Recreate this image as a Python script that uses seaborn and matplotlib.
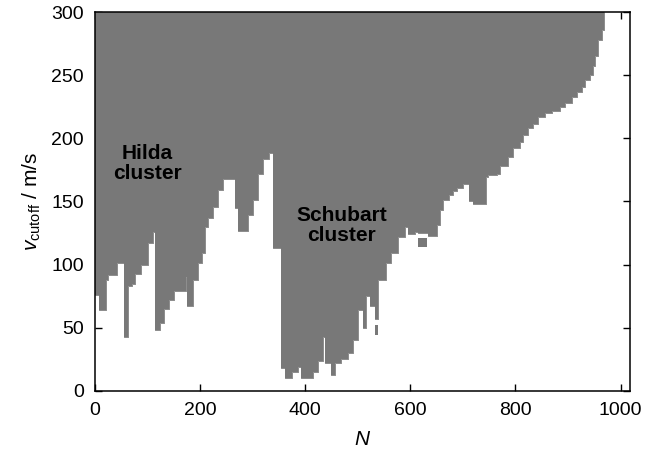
import numpy as np
import pandas as pd
import matplotlib
matplotlib.use("Agg")
import matplotlib.pyplot as plt
import seaborn as sns

# left edge of each step in N, and the cutoff velocity over that step
n_start = [0, 8, 21, 25, 42, 55, 63, 70, 76, 88, 101, 110, 114, 124, 131, 141,
           150, 173, 175, 187, 196, 204, 209, 215, 225, 234, 244, 266, 272, 291,
           301, 310, 320, 331, 339, 354, 362, 375, 386, 392, 415, 425, 434, 438,
           449, 457, 468, 482, 491, 501, 510, 516, 524, 533, 539, 554, 563, 577,
           590, 596, 609, 615, 634, 651, 657, 662, 674, 682, 689, 701, 712, 720,
           744, 748, 765, 771, 786, 796, 809, 815, 824, 834, 843, 857, 870, 885,
           895, 908, 918, 927, 933, 942, 948, 952, 958, 965, 969]
v_cut = [76, 64, 88, 92, 101, 43, 83, 85, 93, 100, 117, 126, 48, 54, 65, 72,
         79, 90, 67, 88, 101, 109, 130, 137, 146, 159, 168, 145, 127, 139,
         151, 172, 184, 188, 113, 18, 10, 15, 19, 10, 15, 24, 43, 22,
         13, 22, 25, 30, 40, 64, 50, 75, 67, 57, 88, 101, 109, 122,
         130, 124, 126, 125, 123, 131, 143, 151, 155, 158, 161, 164, 150, 148,
         169, 171, 172, 178, 185, 192, 197, 203, 208, 211, 217, 220, 222, 225,
         228, 233, 237, 241, 246, 250, 257, 265, 278, 286, 300]

# small detached patches below the main boundary
island_n0 = [533, 615]
island_n1 = [539, 632]
island_lo = [44, 114]
island_hi = [52, 121]

v_max = 300
gray = "#787878"

df = pd.DataFrame({"N": n_start, "v": v_cut})

sns.set_style("ticks")
plt.rcParams["font.family"] = ["Liberation Sans", "DejaVu Sans"]
plt.rcParams["mathtext.fontset"] = "custom"
plt.rcParams["mathtext.rm"] = "Liberation Sans"
plt.rcParams["mathtext.it"] = "Liberation Sans:italic"
plt.rcParams["text.color"] = "black"
plt.rcParams["axes.labelcolor"] = "black"

fig = plt.figure(figsize=(6.48, 4.55), dpi=100)
ax = fig.add_axes([0.1466, 0.1407, 0.8256, 0.8329])

ax.fill_between(df["N"], df["v"], v_max, step="post", color=gray, linewidth=0)
sns.lineplot(data=df, x="N", y="v", drawstyle="steps-post", color=gray,
             linewidth=0.6, ax=ax)
for a, b, lo, hi in zip(island_n0, island_n1, island_lo, island_hi):
    ax.fill_between([a, b], [lo, lo], [hi, hi], color=gray, linewidth=0)

ax.text(100, 180, "Hilda\ncluster", ha="center", va="center", fontsize=15,
        fontweight="bold", linespacing=1.1, color="black")
ax.text(470, 131, "Schubart\ncluster", ha="center", va="center", fontsize=15,
        fontweight="bold", linespacing=1.1, color="black")

ax.set_xlim(0, 1018)
ax.set_ylim(0, v_max)
ax.set_xticks([0, 200, 400, 600, 800, 1000])
ax.set_yticks([0, 50, 100, 150, 200, 250, 300])
ax.tick_params(direction="in", length=5, width=1, top=True, right=True,
               labelsize=14, pad=8, colors="black")
for s in ax.spines.values():
    s.set_linewidth(1.1)
    s.set_color("black")
ax.set_xlabel("$N$", fontsize=15, labelpad=8)
ax.set_ylabel(r"$v_\mathrm{cutoff}$ / m/s", fontsize=15, labelpad=6)

fig.savefig("out.png", dpi=100)
